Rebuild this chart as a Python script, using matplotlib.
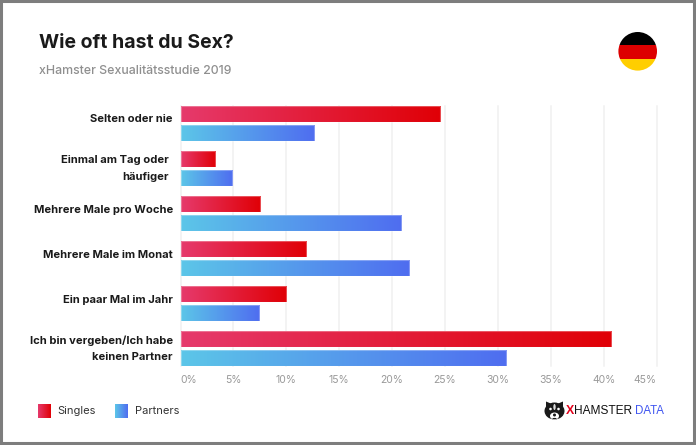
import matplotlib
matplotlib.use("Agg")
import matplotlib.pyplot as plt
import numpy as np
from matplotlib.colors import LinearSegmentedColormap
from matplotlib.patches import Circle, Ellipse, Polygon, Rectangle

plt.rcParams["font.family"] = ["Inter", "DejaVu Sans"]

# Dados
categorias = [
    "Selten oder nie",
    "Einmal am Tag oder\nhäufiger",
    "Mehrere Male pro Woche",
    "Mehrere Male im Monat",
    "Ein paar Mal im Jahr",
    "Ich bin vergeben/Ich habe\nkeinen Partner",
]
singles = [24.5, 3.3, 7.5, 11.9, 10.0, 40.7]
partners = [12.6, 4.9, 20.8, 21.6, 7.4, 30.8]
ticks = [0, 5, 10, 15, 20, 25, 30, 35, 40, 45]
tick_labels = ["0%", "5%", "10%", "15%", "20%", "25%", "30%", "35%", "40%", "45%"]

W, H = 696, 445
cmap_red = LinearSegmentedColormap.from_list("red", ["#e63a6c", "#e00006"])
cmap_blue = LinearSegmentedColormap.from_list("blue", ["#5cc6e8", "#4f6df0"])
grad = np.linspace(0, 1, 256).reshape(1, -1)

fig = plt.figure(figsize=(W / 100, H / 100), dpi=100, facecolor="white")

# Eixo do grafico, em pixels da imagem
left, right, top, bottom = 180.5, 656.5, 106, 366
ax = fig.add_axes([left / W, 1 - bottom / H, (right - left) / W, (bottom - top) / H])
ax.set_axisbelow(True)
ax.grid(axis="x", color="#f0f0f0", lw=1.1, clip_on=False)
ax.grid(axis="y", visible=False)
for s in ax.spines.values():
    s.set_visible(False)

y = np.arange(len(categorias))
bar_h = 15.5 / 45
off = 9.5 / 45
bars_s = ax.barh(y - off, singles, height=bar_h, facecolor="none", edgecolor=(1, 1, 1, 0.3),
                 lw=0.8, zorder=4)
bars_p = ax.barh(y + off, partners, height=bar_h, facecolor="none", edgecolor=(1, 1, 1, 0.3),
                 lw=0.8, zorder=4)

# Barras com gradiente
for bars, cmap in [(bars_s, cmap_red), (bars_p, cmap_blue)]:
    for b in bars:
        x0, y0 = b.get_x(), b.get_y()
        x1, y1 = x0 + b.get_width(), y0 + b.get_height()
        ax.imshow(grad, cmap=cmap, extent=[x0, x1, y1, y0], aspect="auto", zorder=3)
ax.set_xlim(0, 45)
ax.set_ylim(5.39, -0.39)

ax.set_xticks(ticks)
ax.set_xticklabels(tick_labels, color="#999999", fontsize=7.5)
ax.tick_params(axis="x", length=0, pad=6.8)
ax.get_xticklabels()[0].set_ha("left")
ax.get_xticklabels()[-1].set_ha("right")
ax.set_yticks([])

# Rotulos das categorias (deslocamento em pixels)
desloc = [(-7.5, 5), (-12, 0), (-7.5, 4), (-7.5, 3.5), (-7.5, 3.5), (-7.5, 0)]
for i, cat in enumerate(categorias):
    ax.annotate(cat, xy=(0, i), xycoords=("data", "data"),
                xytext=(desloc[i][0] * 0.72, desloc[i][1] * 0.72), textcoords="offset points",
                ha="right", va="center", fontsize=8.05, fontweight="bold", color="#1a1a1a",
                linespacing=1.8, annotation_clip=False)

# Camada em pixels: titulo, legenda, bandeira, logo, moldura
ov = fig.add_axes([0, 0, 1, 1], zorder=5)
ov.patch.set_alpha(0)

ov.text(39, 43.5, "Wie oft hast du Sex?", fontsize=14, fontweight="bold", color="#1a1a1a",
        ha="left", va="center")
ov.text(39, 70.5, "xHamster Sexualitätsstudie 2019", fontsize=8.9, fontweight="medium",
        color="#8f8f8f", ha="left", va="center")

# Legenda
ov.imshow(grad, cmap=cmap_red, extent=[38, 51, 418, 404], aspect="auto")
ov.imshow(grad, cmap=cmap_blue, extent=[115, 127.5, 418, 404], aspect="auto")
ov.text(57.5, 411, "Singles", fontsize=8, color="#333333", ha="left", va="center")
ov.text(134.5, 411, "Partners", fontsize=8, color="#333333", ha="left", va="center")

# Bandeira
clip = Circle((637.7, 51.3), 19.3, transform=ov.transData)
for y0, y1, c in [(32, 45, "#000000"), (45, 58.7, "#dd0000"), (58.7, 71, "#ffce00")]:
    r = Rectangle((618, y0), 40, y1 - y0, color=c, lw=0)
    ov.add_patch(r)
    r.set_clip_path(clip)

# Logo
ink = "#1a1a1a"
ov.add_patch(Ellipse((554.5, 411), 20, 17, color=ink, lw=0))
ov.add_patch(Polygon([(546, 401.5), (552, 404), (546, 409)], color=ink, lw=0))
ov.add_patch(Polygon([(563, 401.5), (557, 404), (563, 409)], color=ink, lw=0))
ov.add_patch(Ellipse((554.5, 416), 9, 7, color="white", lw=0))
ov.add_patch(Ellipse((554.5, 407), 2.4, 6, color="#dddddd", lw=0))
ov.add_patch(Circle((550.5, 409), 1.3, color="white", lw=0))
ov.add_patch(Circle((558.5, 409), 1.3, color="white", lw=0))
ov.add_patch(Circle((554.5, 415), 1.5, color=ink, lw=0))
ov.add_patch(Ellipse((554.5, 418.5), 4.5, 1.2, color=ink, lw=0))
logo_font = ["Liberation Sans", "DejaVu Sans"]
ov.text(566, 411.5, "X", fontsize=8.9, fontweight="bold", color="#e2001a", family=logo_font,
        ha="left", va="center")
ov.text(574, 411.5, "HAMSTER", fontsize=8.6, color="#111111", family=logo_font,
        ha="left", va="center")
ov.text(635, 411.5, "DATA", fontsize=8.3, color="#3f55f0", family=logo_font,
        ha="left", va="center")

# Moldura
ov.add_patch(Rectangle((1, 1), W - 3, H - 3, fill=False, ec="#7d7d7d", lw=2.2))
ov.set_xlim(0, W)
ov.set_ylim(H, 0)
ov.axis("off")

fig.savefig("out.png", dpi=100)
